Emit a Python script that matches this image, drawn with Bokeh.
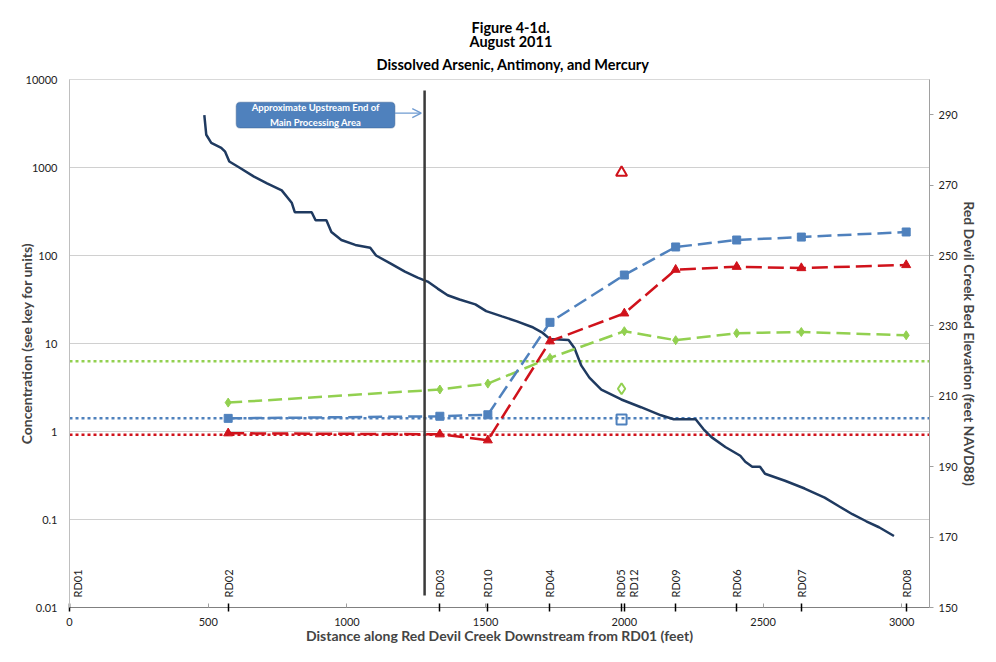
import math
from bokeh.plotting import figure
from bokeh.models import (Range1d, LinearAxis, LinearScale, FixedTicker, CustomJSTickFormatter,
                          BoxAnnotation, Arrow, OpenHead, Title)
from bokeh.core.properties import value
from bokeh.embed import file_html
from bokeh.resources import INLINE

# ---------------- data ----------------
stations = ["RD01", "RD02", "RD03", "RD10", "RD04", "RD05", "RD12", "RD09", "RD06", "RD07", "RD08"]
station_dist = [0, 572, 1335, 1508, 1732, 1990, 2000, 2185, 2405, 2638, 3016]

series_dist = [572, 1335, 1508, 1732, 2000, 2185, 2405, 2638, 3016]
arsenic = [1.41, 1.49, 1.55, 17.4, 60, 125, 150, 162, 185]        # blue squares
antimony = [0.955, 0.93, 0.795, 10.6, 22, 69, 74.5, 72, 78]       # red triangles
mercury = [2.13, 3.0, 3.5, 6.86, 13.8, 10.9, 13.1, 13.5, 12.4]    # green diamonds

rd05_dist = [1990]
rd05_arsenic = [1.37]
rd05_antimony = [873]
rd05_mercury = [3.06]

screen_arsenic = 1.41
screen_antimony = 0.92
screen_mercury = 6.3

elev_dist = [486, 493, 511, 547, 561, 576, 612, 665, 712, 765, 801, 812, 873, 887, 926, 944,
             980, 1030, 1084, 1105, 1158, 1209, 1255, 1291, 1327, 1363, 1406, 1463, 1502,
             1559, 1613, 1667, 1706, 1731, 1799, 1820, 1845, 1874, 1917, 1989, 2060, 2132,
             2178, 2257, 2285, 2314, 2364, 2418, 2436, 2461, 2489, 2507, 2579, 2650, 2722,
             2775, 2822, 2872, 2918, 2972]
elev_ft = [289.9, 284.3, 282.0, 280.6, 279.5, 276.7, 275.0, 272.4, 270.5, 268.5, 265.0, 262.3,
           262.3, 260.0, 260.0, 256.7, 254.4, 253.0, 252.2, 250.0, 247.7, 245.4, 243.7, 242.6,
           240.6, 238.7, 237.5, 236.1, 234.2, 232.7, 231.3, 229.7, 228.0, 226.3, 226.0, 223.7,
           218.7, 215.3, 211.9, 209.1, 206.9, 204.6, 203.5, 203.5, 200.7, 198.4, 195.6, 193.1,
           191.4, 190.0, 190.0, 188.0, 186.0, 183.8, 181.2, 178.7, 176.5, 174.5, 172.8, 170.3]

processing_area_start = 1280
x_ticks = [0, 500, 1000, 1500, 2000, 2500, 3000]
y_ticks = [0.01, 0.1, 1, 10, 100, 1000, 10000]
elev_ticks = [150, 170, 190, 210, 230, 250, 270, 290]
title_lines = ["Figure 4-1d.", "August 2011", "Dissolved Arsenic, Antimony, and Mercury"]

# ---------------- styles ----------------
FONT = "Lato"
BLUE = "#4F81BD"
RED = "#D0121B"
GREEN = "#92D050"
NAVY = "#1F3A60"
TXT = "#222222"
label_dx = [8, 0, 0, 0, 0, -1, 9, 0, 0, 0, 0]
title_offsets = [402, 400, 307]      # px from the frame's left edge, per title line
title_standoffs = [-3, -7, 14]       # per title line

p = figure(width=980, height=646, x_range=Range1d(0, 3100), y_range=Range1d(0.01, 10000),
           y_axis_type="log", output_backend="svg", toolbar_location=None,
           min_border_left=69, min_border_right=43, min_border_top=79, min_border_bottom=36,
           background_fill_color="white", border_fill_color="white")
p.extra_y_ranges = {"elev": Range1d(150, 300)}
p.extra_y_scales = {"elev": LinearScale()}
p.outline_line_color = "#D9D9D9"

# titles (added bottom line first; later ones stack above)
p.title.visible = False
for t, off, so in reversed(list(zip(title_lines, title_offsets, title_standoffs))):
    p.add_layout(Title(text=t, align="left", offset=off, text_font=FONT,
                       text_font_size="14.5px", text_font_style="bold", text_color="black",
                       standoff=so), "above")

# grids
p.xgrid.visible = False
p.ygrid.ticker = FixedTicker(ticks=y_ticks)
p.ygrid.grid_line_color = "#D0D0D0"
p.ygrid.grid_line_width = 1

# left axis
ya = p.yaxis[0]
ya.ticker = FixedTicker(ticks=y_ticks, minor_ticks=[])
ya.formatter = CustomJSTickFormatter(code="return String(tick);")
ya.major_tick_in = 0
ya.major_tick_out = 0
ya.minor_tick_in = 0
ya.minor_tick_out = 0
ya.axis_line_color = "#BFBFBF"
ya.major_label_standoff = 12
ya.major_label_text_font = FONT
ya.major_label_text_font_size = "11px"
ya.major_label_text_color = TXT
ya.axis_label = "Concentration (see key for units)"
ya.axis_label_text_font = FONT
ya.axis_label_text_font_size = "14px"
ya.axis_label_text_font_style = "bold"
ya.axis_label_standoff = -12

# bottom axis
xa = p.xaxis[0]
xa.ticker = FixedTicker(ticks=x_ticks, minor_ticks=station_dist)
xa.major_tick_in = 4
xa.major_tick_out = 0
xa.major_tick_line_color = "#A0A0A0"
xa.minor_tick_in = 4
xa.minor_tick_out = 4
xa.minor_tick_line_color = "black"
xa.minor_tick_line_width = 1.5
xa.axis_line_color = "#808080"
xa.major_label_standoff = 6
xa.major_label_text_font = FONT
xa.major_label_text_font_size = "11px"
xa.major_label_text_color = TXT
xa.axis_label = "Distance along Red Devil Creek Downstream from RD01 (feet)"
xa.axis_label_text_font = FONT
xa.axis_label_text_font_size = "14px"
xa.axis_label_text_font_style = "bold"
xa.axis_label_standoff = -2

# right axis
ra = LinearAxis(y_range_name="elev", ticker=FixedTicker(ticks=elev_ticks, minor_ticks=[]),
                axis_label="Red Devil Creek Bed Elevation (feet NAVD88)")
ra.major_tick_in = 0
ra.major_tick_out = 4
ra.major_tick_line_color = "#A0A0A0"
ra.axis_line_color = "#A0A0A0"
ra.major_label_standoff = 5
ra.major_label_text_font = FONT
ra.major_label_text_font_size = "11px"
ra.major_label_text_color = TXT
ra.axis_label_text_font = FONT
ra.axis_label_text_font_size = "14px"
ra.axis_label_text_font_style = "bold"
ra.axis_label_standoff = 0
p.add_layout(ra, "right")

# screening level dotted lines
for lvl, col in [(screen_mercury, GREEN), (screen_arsenic, BLUE), (screen_antimony, RED)]:
    p.line(x=[0, 3100], y=[lvl, lvl], line_color=col, line_width=2.5, line_dash="3 3")

# elevation profile
p.line(x=elev_dist, y=elev_ft, y_range_name="elev", line_color=NAVY, line_width=2.5)

# upstream end of processing area
p.segment(x0=[processing_area_start], y0=[0.0137], x1=[processing_area_start], y1=[7500],
          line_color="#3A3A3A", line_width=2.5)

# series
p.line(series_dist, mercury, line_color=GREEN, line_width=2.5, line_dash="14 6")
p.scatter(series_dist, mercury, marker="diamond", size=9, fill_color=GREEN, line_color=GREEN)
p.line(series_dist, arsenic, line_color=BLUE, line_width=2.5, line_dash="14 6")
p.scatter(series_dist, arsenic, marker="square", size=8, fill_color=BLUE, line_color=BLUE)
p.line(series_dist, antimony, line_color=RED, line_width=2.5, line_dash="16 6")
p.scatter(series_dist, antimony, marker="triangle", size=9, fill_color=RED, line_color=RED)

# RD05 open markers
p.scatter(rd05_dist, rd05_arsenic, marker="square", size=10, fill_color=None,
          line_color=BLUE, line_width=2)
p.scatter(rd05_dist, rd05_mercury, marker="diamond", size=11, fill_color=None,
          line_color=GREEN, line_width=2)
p.scatter(rd05_dist, rd05_antimony, marker="triangle", size=11, fill_color=None,
          line_color=RED, line_width=2)

# station labels
p.text(x=station_dist, y=[y_ticks[0]] * len(station_dist), text=stations, angle=math.pi / 2,
       text_align="left", text_baseline="middle", x_offset=label_dx, y_offset=-10,
       text_font=value(FONT), text_font_size="11px", text_color=TXT)

# callout box
box = BoxAnnotation(left=601, right=1173, top=5508, bottom=2806, fill_color=BLUE,
                    fill_alpha=1.0, line_color="#385D8A", line_width=1.5,
                    border_radius=4, level="underlay")
p.add_layout(box)
p.text(x=[887], y=[3935], text=["Approximate Upstream End of\nMain Processing Area"],
       text_align="center", text_baseline="middle", text_font=value(FONT),
       text_font_size="9.5px", text_font_style="bold", text_color="white",
       text_line_height=1.35)
p.add_layout(Arrow(end=OpenHead(size=9, line_color="#6F9BD1", line_width=1.3),
                   x_start=1173, y_start=4140, x_end=processing_area_start - 12, y_end=4140,
                   line_color="#6F9BD1", line_width=1.3))

open("out.html", "w").write(file_html(p, INLINE))
